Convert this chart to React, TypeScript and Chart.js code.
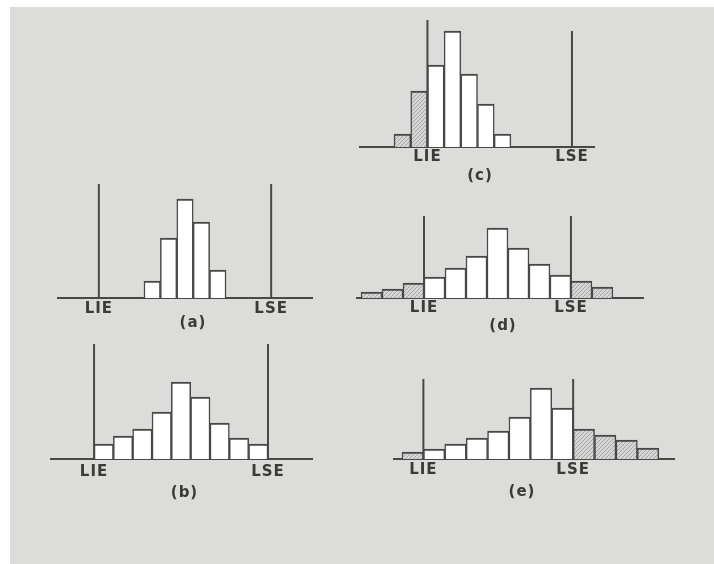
import React, { useEffect, useRef } from 'react';
import { Chart, registerables } from 'chart.js';

Chart.register(...registerables);

// ---------- data (bin units on x, frequencies on y) ----------
const LIMIT_LABELS = ['LIE', 'LSE'];
const CAPTIONS = ['(a)', '(b)', '(c)', '(d)', '(e)'];

// (a)
const A_FREQ = [17, 60, 99, 76, 28];
const A_SHADED = [0, 0, 0, 0, 0];
const A_LIMITS = [-2.75, 7.75];
const A_LIMIT_HEIGHTS = [114, 114];
const A_RANGE = [-5.3, 10.3];

// (b)
const B_FREQ = [15, 23, 30, 47, 77, 62, 36, 21, 15];
const B_SHADED = [0, 0, 0, 0, 0, 0, 0, 0, 0];
const B_LIMITS = [0, 9];
const B_LIMIT_HEIGHTS = [115, 115];
const B_RANGE = [-2.28, 11.33];

// (c)
const C_FREQ = [13, 56, 82, 116, 73, 43, 13];
const C_SHADED = [1, 1, 0, 0, 0, 0, 0];
const C_LIMITS = [2, 10.66];
const C_LIMIT_HEIGHTS = [127, 116];
const C_RANGE = [-2.1, 12.04];

// (d)
const D_FREQ = [6, 9, 15, 21, 30, 42, 70, 50, 34, 23, 17, 11];
const D_SHADED = [1, 1, 1, 0, 0, 0, 0, 0, 0, 0, 1, 1];
const D_LIMITS = [3, 10];
const D_LIMIT_HEIGHTS = [82, 82];
const D_RANGE = [-0.24, 13.48];

// (e)
const E_FREQ = [7, 10, 15, 21, 28, 42, 71, 51, 30, 24, 19, 11];
const E_SHADED = [1, 0, 0, 0, 0, 0, 0, 0, 1, 1, 1, 1];
const E_LIMITS = [1, 8];
const E_LIMIT_HEIGHTS = [80, 80];
const E_RANGE = [-0.42, 12.76];

// ---------- layout / style ----------
const SCALE_H = 50;
const INK = '#484848';
const TEXT = '#3a3a3a';
const FONT_FAMILY = '"DejaVu Sans", "Liberation Sans", sans-serif';
const LETTER_SPACING = '1px';

const PANELS = [
  { caption: CAPTIONS[0], freq: A_FREQ, shaded: A_SHADED, limits: A_LIMITS, limitHeights: A_LIMIT_HEIGHTS, range: A_RANGE,
    box: { left: 57, top: 184, width: 256, plotH: 114, tickPad: 2, capDx: 8, capDy: 25 } },
  { caption: CAPTIONS[1], freq: B_FREQ, shaded: B_SHADED, limits: B_LIMITS, limitHeights: B_LIMIT_HEIGHTS, range: B_RANGE,
    box: { left: 50, top: 344, width: 263, plotH: 115, tickPad: 4, capDx: 3, capDy: 34 } },
  { caption: CAPTIONS[2], freq: C_FREQ, shaded: C_SHADED, limits: C_LIMITS, limitHeights: C_LIMIT_HEIGHTS, range: C_RANGE,
    box: { left: 359, top: 20, width: 236, plotH: 127, tickPad: 1, capDx: 3, capDy: 29 } },
  { caption: CAPTIONS[3], freq: D_FREQ, shaded: D_SHADED, limits: D_LIMITS, limitHeights: D_LIMIT_HEIGHTS, range: D_RANGE,
    box: { left: 356, top: 216, width: 288, plotH: 82, tickPad: 1, capDx: 3, capDy: 28 } },
  { caption: CAPTIONS[4], freq: E_FREQ, shaded: E_SHADED, limits: E_LIMITS, limitHeights: E_LIMIT_HEIGHTS, range: E_RANGE,
    box: { left: 393, top: 379, width: 282, plotH: 80, tickPad: 2, capDx: -12, capDy: 33 } },
];

function makeHatch(): CanvasPattern | string {
  const c = document.createElement('canvas');
  c.width = 4;
  c.height = 4;
  const x = c.getContext('2d');
  if (!x) return '#cfcfcf';
  x.fillStyle = '#d6d6d6';
  x.fillRect(0, 0, 4, 4);
  x.strokeStyle = '#a6a6a6';
  x.lineWidth = 1;
  x.beginPath();
  x.moveTo(0, 4); x.lineTo(4, 0);
  x.moveTo(-1, 1); x.lineTo(1, -1);
  x.moveTo(3, 5); x.lineTo(5, 3);
  x.stroke();
  return x.createPattern(c, 'repeat') || '#cfcfcf';
}

const spacingPlugin = {
  id: 'spacing',
  beforeDraw(chart: any) {
    (chart.ctx as any).letterSpacing = LETTER_SPACING;
  },
};

const captionPlugin = {
  id: 'caption',
  afterDraw(chart: any, _args: any, opts: any) {
    const { ctx, chartArea } = chart;
    ctx.save();
    ctx.font = `bold 15px ${FONT_FAMILY}`;
    ctx.fillStyle = TEXT;
    ctx.textAlign = 'center';
    ctx.textBaseline = 'middle';
    (ctx as any).letterSpacing = LETTER_SPACING;
    ctx.fillText(opts.text, (chartArea.left + chartArea.right) / 2 + opts.dx, chartArea.bottom + opts.dy);
    ctx.restore();
  },
};

function Panel({ p }: { p: any }) {
  const ref = useRef<HTMLCanvasElement>(null);
  useEffect(() => {
    if (!ref.current) return;
    const hatch = makeHatch();
    const { box } = p;
    const chart = new Chart(ref.current, {
      type: 'bar',
      data: {
        datasets: [
          {
            type: 'bar',
            data: p.freq.map((v: number, i: number) => ({ x: i + 0.5, y: v })),
            backgroundColor: p.shaded.map((s: number) => (s ? hatch : '#ffffff')),
            borderColor: INK,
            borderWidth: { top: 2, left: 1.5, right: 1.5, bottom: 0 },
            borderSkipped: 'bottom',
            barPercentage: 1,
            categoryPercentage: 1,
            order: 2,
          } as any,
          ...p.limits.map((lx: number, k: number) => ({
            type: 'line',
            data: [{ x: lx, y: 0 }, { x: lx, y: p.limitHeights[k] }],
            borderColor: INK,
            borderWidth: 2,
            pointRadius: 0,
            fill: false,
            order: 1,
          })),
        ],
      },
      options: {
        responsive: false,
        devicePixelRatio: 1,
        animation: false,
        layout: { padding: 0 },
        plugins: {
          legend: { display: false },
          tooltip: { enabled: false },
          caption: { text: p.caption, dx: box.capDx, dy: box.capDy },
        } as any,
        scales: {
          x: {
            type: 'linear',
            min: p.range[0],
            max: p.range[1],
            offset: false,
            grid: { display: false, drawTicks: false, tickLength: 0 },
            border: { display: true, color: INK, width: 2 },
            afterBuildTicks: (s: any) => {
              s.ticks = p.limits.map((v: number) => ({ value: v }));
            },
            afterFit: (s: any) => {
              s.height = SCALE_H;
            },
            ticks: {
              autoSkip: false,
              maxRotation: 0,
              minRotation: 0,
              padding: box.tickPad,
              color: TEXT,
              font: { family: FONT_FAMILY, size: 15, weight: 'bold' },
              callback: (_v: any, i: number) => LIMIT_LABELS[i],
            },
          },
          y: {
            display: false,
            min: 0,
            max: Math.max(...p.limitHeights),
          },
        },
      } as any,
      plugins: [spacingPlugin, captionPlugin],
    });
    return () => chart.destroy();
  }, [p]);
  const { box } = p;
  const h = box.plotH + SCALE_H;
  return (
    <canvas
      ref={ref}
      width={box.width}
      height={h}
      style={{ position: 'absolute', left: box.left, top: box.top, width: box.width, height: h }}
    />
  );
}

export default function App() {
  return (
    <div style={{ position: 'absolute', left: 0, top: 0, width: 714, height: 564, background: '#ffffff', overflow: 'hidden' }}>
      <div style={{ position: 'absolute', left: 10, top: 7, right: 0, bottom: 0, background: '#dcdcda' }} />
      {PANELS.map((p) => (
        <Panel key={p.caption} p={p} />
      ))}
    </div>
  );
}
